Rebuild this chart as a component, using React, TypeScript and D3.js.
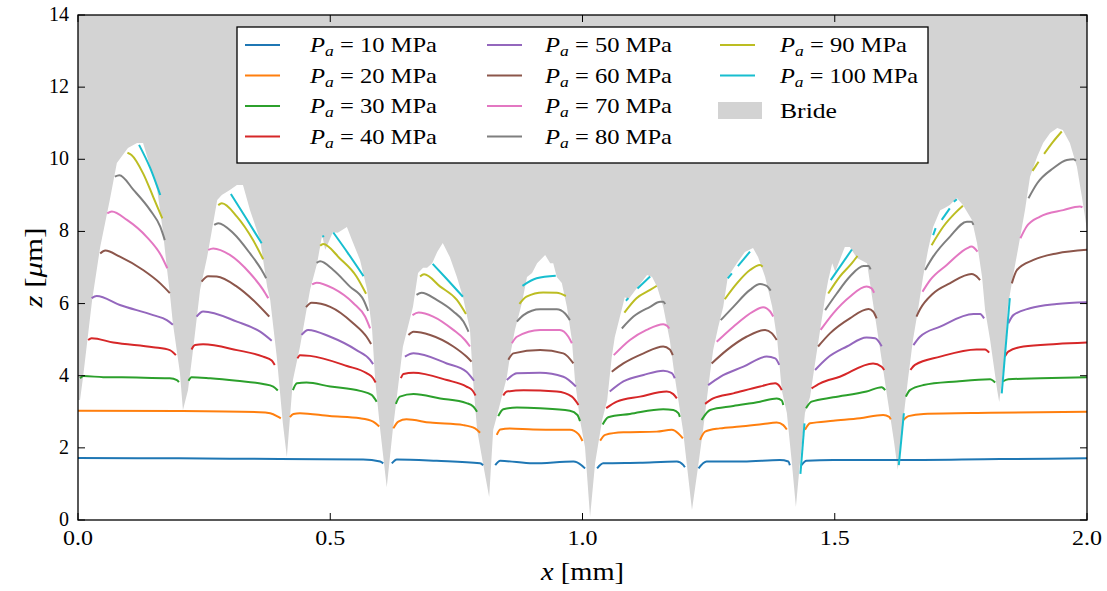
import React from 'react';
import * as d3 from 'd3';

type P = [number, number];

const pressures = [10, 20, 30, 40, 50, 60, 70, 80, 90, 100];
const colors = ['#1f77b4', '#ff7f0e', '#2ca02c', '#d62728', '#9467bd', '#8c564b', '#e377c2', '#7f7f7f', '#bcbd22', '#17becf'];
const xTicks = [0, 0.5, 1.0, 1.5, 2.0];
const yTicks = [0, 2, 4, 6, 8, 10, 12, 14];

// Bride surface profile (x in mm, z in µm); gray fills from it up to the top
const bride: P[] = [
  [0, 3.33], [0.004, 3.33], [0.01, 3.96], [0.028, 6.1], [0.044, 7.57], [0.063, 8.87], [0.077, 9.9], [0.099, 10.31], [0.117, 10.45], [0.129, 10.45],
  [0.143, 9.79], [0.157, 9.15], [0.168, 8.04], [0.176, 7.01], [0.182, 6.29], [0.188, 5.46], [0.202, 4.08], [0.208, 3.05],
  [0.218, 3.6], [0.228, 4.71], [0.242, 6.38], [0.256, 7.29], [0.276, 8.87], [0.285, 9.01], [0.301, 9.15], [0.315, 9.29], [0.327, 9.29],
  [0.341, 8.59], [0.361, 7.76], [0.375, 6.46], [0.381, 6.1], [0.394, 4.52], [0.406, 2.69], [0.414, 1.75],
  [0.426, 3.88], [0.44, 4.8], [0.46, 6.38], [0.474, 7.12], [0.484, 7.9], [0.49, 7.49], [0.496, 7.68], [0.505, 7.98], [0.515, 7.96], [0.533, 8.12],
  [0.543, 7.76], [0.559, 7.21], [0.573, 6.38], [0.583, 5.27], [0.589, 3.88], [0.599, 2.5], [0.612, 0.91],
  [0.624, 2.5], [0.632, 3.41], [0.644, 4.8], [0.664, 5.91], [0.674, 6.85], [0.684, 6.99], [0.692, 6.99], [0.702, 7.12], [0.712, 7.43], [0.723, 7.68],
  [0.737, 7.29], [0.751, 6.74], [0.763, 6.18], [0.777, 5.27], [0.783, 3.88], [0.791, 2.5], [0.805, 1.39], [0.815, 0.64],
  [0.823, 2.5], [0.832, 2.97], [0.85, 3.96], [0.856, 4.52], [0.866, 5.27], [0.88, 6.02], [0.89, 6.74], [0.9, 6.85], [0.91, 7.12], [0.926, 7.35],
  [0.936, 7.12], [0.942, 7.12], [0.949, 6.74], [0.959, 6.57], [0.969, 5.91], [0.979, 4.99], [0.985, 3.88], [0.995, 2.77], [1.005, 2.02], [1.015, 0.08],
  [1.025, 1.58], [1.039, 2.77], [1.049, 3.33], [1.058, 4.52], [1.064, 5.07], [1.074, 5.63], [1.084, 6.18], [1.09, 6.1], [1.108, 6.43], [1.128, 6.79],
  [1.138, 6.74], [1.148, 6.46], [1.16, 5.91], [1.173, 4.99], [1.183, 3.96], [1.199, 2.5], [1.217, 0.28],
  [1.229, 1.47], [1.239, 2.5], [1.247, 3.41], [1.253, 4.08], [1.259, 4.71], [1.269, 5.35], [1.279, 5.91], [1.288, 6.74], [1.306, 7.12], [1.322, 7.43],
  [1.338, 7.54], [1.348, 7.29], [1.362, 6.74], [1.376, 5.91], [1.386, 4.99], [1.395, 3.6], [1.405, 2.97], [1.415, 1.58], [1.423, 0.36],
  [1.431, 1.58], [1.441, 2.97], [1.451, 3.41], [1.461, 4.35], [1.471, 5.27], [1.481, 6.18], [1.487, 6.65], [1.495, 7.12], [1.501, 6.88], [1.51, 7.21],
  [1.52, 7.57], [1.53, 7.57], [1.544, 7.26], [1.564, 7.12], [1.574, 6.18], [1.584, 5.27], [1.594, 4.35], [1.604, 3.41], [1.611, 2.77], [1.617, 2.22], [1.625, 1.39],
  [1.635, 2.69], [1.645, 3.88], [1.655, 4.99], [1.665, 5.82], [1.675, 6.74], [1.685, 7.49], [1.695, 8.12], [1.709, 8.59], [1.718, 8.65], [1.728, 8.73],
  [1.742, 8.93], [1.754, 8.73], [1.772, 8.32], [1.782, 7.68], [1.792, 6.74], [1.798, 5.82], [1.808, 4.99], [1.822, 3.6], [1.826, 3.27],
  [1.837, 4.52], [1.843, 5.91], [1.853, 6.74], [1.863, 7.49], [1.877, 8.59], [1.887, 9.51], [1.901, 10.06], [1.913, 10.45], [1.927, 10.73], [1.941, 10.87],
  [1.952, 10.81], [1.966, 10.45], [1.98, 9.79], [1.99, 8.95], [1.994, 8.59], [2.0, 8.04],
];

const s10: P[][] = [
  [[0, 1.72], [0.2, 1.71], [0.4, 1.69], [0.565, 1.68], [0.599, 1.62], [0.605, 1.57]],
  [[0.622, 1.57], [0.632, 1.68], [0.711, 1.64], [0.797, 1.57], [0.803, 1.52]],
  [[0.827, 1.52], [0.837, 1.64], [0.902, 1.57], [0.982, 1.62], [0.998, 1.52], [1.005, 1.43]],
  [[1.029, 1.43], [1.041, 1.57], [1.114, 1.59], [1.187, 1.62], [1.2, 1.52], [1.203, 1.46]],
  [[1.23, 1.43], [1.246, 1.62], [1.319, 1.62], [1.391, 1.66], [1.408, 1.62], [1.411, 1.52]],
  [[1.434, 1.52], [1.444, 1.64], [1.497, 1.66], [1.619, 1.66], [1.828, 1.69], [2.0, 1.71]],
];
const s20: P[][] = [
  [[0, 3.03], [0.2, 3.02], [0.36, 2.99], [0.381, 2.96], [0.397, 2.86], [0.402, 2.82]],
  [[0.42, 2.85], [0.427, 2.94], [0.44, 2.96], [0.499, 2.88], [0.559, 2.82], [0.585, 2.73], [0.597, 2.59]],
  [[0.625, 2.54], [0.635, 2.73], [0.651, 2.79], [0.698, 2.7], [0.764, 2.63], [0.787, 2.54], [0.797, 2.42]],
  [[0.83, 2.36], [0.837, 2.51], [0.856, 2.54], [0.902, 2.51], [0.975, 2.5], [0.992, 2.38], [1.0, 2.19]],
  [[1.035, 2.2], [1.045, 2.36], [1.081, 2.43], [1.147, 2.45], [1.177, 2.5], [1.19, 2.4], [1.199, 2.26]],
  [[1.233, 2.22], [1.243, 2.45], [1.272, 2.54], [1.312, 2.59], [1.358, 2.66], [1.385, 2.7], [1.398, 2.63], [1.405, 2.51]],
  [[1.441, 2.5], [1.451, 2.68], [1.497, 2.75], [1.55, 2.82], [1.596, 2.91], [1.608, 2.86], [1.611, 2.79]],
  [[1.636, 2.77], [1.646, 2.88], [1.676, 2.94], [1.808, 2.97], [2.0, 3.0]],
];
const s30: P[][] = [
  [[0.004, 3.93], [0.011, 3.99], [0.05, 3.96], [0.116, 3.95], [0.182, 3.93], [0.196, 3.88], [0.2, 3.82]],
  [[0.219, 3.86], [0.225, 3.96], [0.262, 3.93], [0.315, 3.86], [0.367, 3.77], [0.387, 3.7], [0.396, 3.59]],
  [[0.426, 3.6], [0.434, 3.79], [0.453, 3.81], [0.5, 3.7], [0.559, 3.58], [0.582, 3.47], [0.592, 3.28]],
  [[0.63, 3.22], [0.638, 3.42], [0.665, 3.49], [0.718, 3.37], [0.77, 3.24], [0.784, 3.14], [0.791, 3.0]],
  [[0.833, 2.88], [0.843, 3.07], [0.87, 3.12], [0.916, 3.1], [0.975, 3.03], [0.99, 2.91], [0.995, 2.74]],
  [[1.04, 2.65], [1.051, 2.85], [1.094, 2.94], [1.16, 3.07], [1.18, 3.05], [1.19, 2.96], [1.193, 2.86]],
  [[1.236, 2.77], [1.253, 3.05], [1.299, 3.16], [1.352, 3.28], [1.385, 3.37], [1.395, 3.31], [1.398, 3.19]],
  [[1.443, 3.1], [1.454, 3.28], [1.497, 3.4], [1.563, 3.56], [1.593, 3.68], [1.6, 3.6]],
  [[1.641, 3.42], [1.649, 3.6], [1.676, 3.74], [1.742, 3.84], [1.808, 3.9], [1.814, 3.86], [1.818, 3.81]],
  [[1.833, 3.84], [1.844, 3.9], [1.907, 3.93], [2.0, 3.96]],
];
const s40: P[][] = [
  [[0.02, 4.99], [0.027, 5.04], [0.07, 4.92], [0.149, 4.79], [0.182, 4.71], [0.194, 4.57]],
  [[0.225, 4.73], [0.232, 4.85], [0.248, 4.87], [0.315, 4.71], [0.367, 4.53], [0.384, 4.42], [0.39, 4.3]],
  [[0.435, 4.48], [0.44, 4.57], [0.46, 4.55], [0.533, 4.27], [0.572, 4.07], [0.585, 3.93], [0.59, 3.81]],
  [[0.64, 3.93], [0.645, 4.05], [0.665, 4.08], [0.731, 3.88], [0.77, 3.7], [0.782, 3.59], [0.788, 3.45]],
  [[0.843, 3.45], [0.85, 3.56], [0.883, 3.6], [0.949, 3.56], [0.979, 3.42], [0.992, 3.19]],
  [[1.047, 3.1], [1.068, 3.28], [1.114, 3.42], [1.167, 3.56], [1.18, 3.49], [1.187, 3.37]],
  [[1.243, 3.22], [1.259, 3.37], [1.299, 3.51], [1.352, 3.7], [1.382, 3.79], [1.391, 3.7], [1.395, 3.6]],
  [[1.454, 3.65], [1.471, 3.79], [1.51, 3.97], [1.576, 4.34], [1.593, 4.25], [1.598, 4.16]],
  [[1.65, 4.16], [1.659, 4.3], [1.709, 4.53], [1.781, 4.73], [1.798, 4.73], [1.806, 4.64]],
  [[1.837, 4.53], [1.844, 4.67], [1.874, 4.81], [1.94, 4.88], [2.0, 4.92]],
];
const s50: P[][] = [
  [[0.027, 6.15], [0.037, 6.21], [0.083, 5.96], [0.149, 5.68], [0.176, 5.54], [0.188, 5.41]],
  [[0.235, 5.64], [0.248, 5.78], [0.315, 5.5], [0.361, 5.22], [0.384, 4.97]],
  [[0.443, 5.13], [0.456, 5.27], [0.5, 5.08], [0.552, 4.71], [0.579, 4.44], [0.585, 4.32]],
  [[0.648, 4.53], [0.665, 4.62], [0.731, 4.34], [0.77, 4.11], [0.785, 3.86]],
  [[0.85, 3.88], [0.87, 4.07], [0.916, 4.08], [0.962, 3.97], [0.987, 3.7]],
  [[1.054, 3.56], [1.081, 3.84], [1.121, 4.02], [1.16, 4.14], [1.177, 4.07], [1.183, 3.93]],
  [[1.249, 3.74], [1.273, 3.97], [1.319, 4.25], [1.365, 4.53], [1.382, 4.48], [1.39, 4.3]],
  [[1.461, 4.16], [1.484, 4.48], [1.524, 4.81], [1.563, 5.06], [1.58, 5.04], [1.593, 4.82]],
  [[1.656, 4.85], [1.669, 5.08], [1.709, 5.36], [1.775, 5.71], [1.788, 5.71], [1.796, 5.59]],
  [[1.844, 5.45], [1.854, 5.68], [1.887, 5.87], [1.94, 5.99], [2.0, 6.04]],
];
const s60: P[][] = [
  [[0.044, 7.39], [0.054, 7.47], [0.083, 7.3], [0.129, 6.93], [0.163, 6.56], [0.182, 6.29]],
  [[0.245, 6.61], [0.258, 6.76], [0.275, 6.75], [0.315, 6.47], [0.347, 6.1], [0.379, 5.64]],
  [[0.452, 5.9], [0.463, 6.02], [0.5, 5.91], [0.546, 5.45], [0.572, 5.08], [0.581, 4.88]],
  [[0.655, 5.13], [0.665, 5.22], [0.698, 5.13], [0.744, 4.81], [0.77, 4.53], [0.78, 4.39]],
  [[0.853, 4.44], [0.863, 4.62], [0.916, 4.71], [0.962, 4.62], [0.982, 4.34]],
  [[1.058, 4.11], [1.081, 4.34], [1.121, 4.62], [1.16, 4.81], [1.173, 4.73], [1.179, 4.57]],
  [[1.256, 4.34], [1.286, 4.71], [1.325, 5.08], [1.362, 5.27], [1.375, 5.18], [1.385, 4.99]],
  [[1.467, 4.81], [1.491, 5.18], [1.53, 5.59], [1.567, 5.85], [1.576, 5.78], [1.583, 5.59]],
  [[1.662, 5.64], [1.669, 5.84], [1.695, 6.28], [1.728, 6.56], [1.771, 6.82], [1.785, 6.7], [1.788, 6.65]],
  [[1.851, 6.56], [1.861, 6.93], [1.894, 7.21], [1.94, 7.39], [2.0, 7.49]],
];
const s70: P[][] = [
  [[0.058, 8.5], [0.067, 8.55], [0.097, 8.32], [0.136, 7.85], [0.166, 7.3], [0.177, 6.98]],
  [[0.258, 7.49], [0.268, 7.53], [0.301, 7.35], [0.341, 6.84], [0.367, 6.38], [0.377, 6.15]],
  [[0.464, 6.53], [0.473, 6.58], [0.506, 6.42], [0.546, 6.01], [0.569, 5.64], [0.579, 5.31]],
  [[0.663, 5.68], [0.675, 5.75], [0.704, 5.64], [0.744, 5.27], [0.767, 4.99], [0.777, 4.81]],
  [[0.86, 4.9], [0.87, 5.08], [0.916, 5.27], [0.955, 5.27], [0.972, 5.08], [0.979, 4.9]],
  [[1.062, 4.57], [1.094, 4.99], [1.127, 5.27], [1.16, 5.43], [1.168, 5.38], [1.172, 5.31]],
  [[1.266, 4.94], [1.299, 5.36], [1.338, 5.78], [1.358, 5.9], [1.372, 5.78], [1.378, 5.64]],
  [[1.472, 5.27], [1.497, 5.73], [1.53, 6.19], [1.563, 6.47], [1.573, 6.42], [1.578, 6.3]],
  [[1.674, 6.33], [1.689, 6.65], [1.722, 7.07], [1.762, 7.53], [1.771, 7.58], [1.783, 7.44]],
  [[1.868, 7.81], [1.88, 8.13], [1.907, 8.41], [1.953, 8.59], [1.986, 8.69], [1.991, 8.67]],
];
const s80: P[][] = [
  [[0.073, 9.52], [0.082, 9.56], [0.11, 9.15], [0.143, 8.59], [0.163, 8.13], [0.172, 7.76]],
  [[0.27, 8.18], [0.278, 8.23], [0.308, 7.95], [0.341, 7.39], [0.364, 6.93], [0.373, 6.7]],
  [[0.473, 7.13], [0.48, 7.17], [0.506, 6.93], [0.539, 6.47], [0.566, 6.1], [0.575, 5.8]],
  [[0.671, 6.24], [0.681, 6.3], [0.711, 6.1], [0.744, 5.78], [0.764, 5.5], [0.774, 5.22]],
  [[0.87, 5.5], [0.883, 5.68], [0.916, 5.84], [0.949, 5.84], [0.965, 5.73], [0.975, 5.54]],
  [[1.078, 5.31], [1.101, 5.64], [1.134, 5.91], [1.154, 6.05], [1.16, 6.05], [1.164, 5.99]],
  [[1.274, 5.54], [1.299, 5.91], [1.332, 6.38], [1.352, 6.54], [1.365, 6.49], [1.373, 6.36]],
  [[1.481, 5.82], [1.504, 6.28], [1.53, 6.75], [1.557, 7.04], [1.567, 7.04], [1.571, 6.95]],
  [[1.679, 6.93], [1.695, 7.3], [1.728, 7.85], [1.762, 8.27], [1.771, 8.27], [1.775, 8.18]],
  [[1.884, 8.92], [1.901, 9.33], [1.933, 9.75], [1.96, 9.98], [1.973, 10.0], [1.978, 9.96]],
];
const s90: P[][] = [
  [[0.098, 10.18], [0.106, 10.12], [0.129, 9.61], [0.149, 8.96], [0.167, 8.36]],
  [[0.278, 8.73], [0.285, 8.78], [0.315, 8.41], [0.347, 7.76], [0.367, 7.23]],
  [[0.48, 7.6], [0.486, 7.65], [0.519, 7.25], [0.552, 6.75], [0.571, 6.27]],
  [[0.678, 6.75], [0.686, 6.81], [0.718, 6.47], [0.751, 6.1], [0.769, 5.71]],
  [[0.875, 5.99], [0.889, 6.19], [0.922, 6.31], [0.949, 6.3], [0.967, 6.21]],
  [[1.083, 5.75], [1.107, 6.15], [1.134, 6.38], [1.147, 6.49]],
  [[1.282, 6.12], [1.306, 6.56], [1.332, 6.93], [1.352, 7.07], [1.357, 7.02]],
  [[1.487, 6.28], [1.51, 6.75], [1.534, 7.12], [1.545, 7.32]],
  [[1.692, 7.62], [1.715, 8.13], [1.738, 8.5], [1.754, 8.71]],
  [[1.892, 9.68], [1.904, 9.93]],
  [[1.915, 10.15], [1.933, 10.49], [1.95, 10.77]],
];
const s100: P[][] = [
  [[0.121, 10.4], [0.143, 9.76], [0.163, 9.01]],
  [[0.303, 9.04], [0.333, 8.37], [0.364, 7.67]],
  [[0.484, 7.86], [0.488, 7.87]],
  [[0.506, 7.97], [0.535, 7.4], [0.566, 6.76]],
  [[0.703, 7.1], [0.731, 6.68], [0.763, 6.19]],
  [[0.881, 6.49], [0.909, 6.7], [0.947, 6.77]],
  [[1.086, 6.08], [1.091, 6.15]],
  [[1.109, 6.42], [1.134, 6.75]],
  [[1.288, 6.7], [1.296, 6.84]],
  [[1.308, 7.04], [1.332, 7.44]],
  [[1.492, 6.65], [1.534, 7.5]],
  [[1.695, 7.9], [1.7, 8.09]],
  [[1.712, 8.32], [1.728, 8.64]],
  [[1.736, 8.82], [1.742, 8.89]],
  [[1.432, 1.28], [1.44, 2.68]],
  [[1.627, 1.52], [1.637, 2.96]],
  [[1.831, 3.51], [1.847, 6.15]],
];
const seriesData = [s10, s20, s30, s40, s50, s60, s70, s80, s90, s100];

const FONT = "'Liberation Serif', 'DejaVu Serif', serif";

export default function App() {
  const x = d3.scaleLinear().domain([0, 2]).range([78, 1087]);
  const y = d3.scaleLinear().domain([0, 14]).range([520, 15]);
  const area = d3.area<P>().x(d => x(d[0])).y0(y(14)).y1(d => y(d[1]));
  const line = d3.line<P>().x(d => x(d[0])).y(d => y(d[1])).curve(d3.curveMonotoneX);
  const x0 = x(0), x1 = x(2), y0 = y(0), y1 = y(14);
  const tl = 7;

  const legendRows = [45, 75.5, 106, 136.5];
  const legendCols = [{ lx: 245, tx: 310 }, { lx: 487, tx: 545 }, { lx: 720, tx: 780 }];

  return (
    <svg width={1107} height={591} style={{ position: 'absolute', left: 0, top: 0, background: '#fff' }} fontFamily={FONT}>
      <defs>
        <clipPath id="plotclip"><rect x={x0} y={y1} width={x1 - x0} height={y0 - y1} /></clipPath>
      </defs>
      <rect x={0} y={0} width={1107} height={591} fill="#fff" />
      <g clipPath="url(#plotclip)">
        <path d={area(bride) || ''} fill="#d3d3d3" stroke="none" />
        {seriesData.map((segs, i) => (
          <g key={i}>
            {segs.map((seg, j) => (
              <path key={j} d={line(seg) || ''} fill="none" stroke={colors[i]} strokeWidth={2} strokeLinecap="butt" strokeLinejoin="round" />
            ))}
          </g>
        ))}
      </g>
      {/* frame */}
      <rect x={x0} y={y1} width={x1 - x0} height={y0 - y1} fill="none" stroke="#000" strokeWidth={1.3} />
      {/* ticks */}
      {xTicks.map(t => (
        <g key={'xt' + t}>
          <line x1={x(t)} x2={x(t)} y1={y0} y2={y0 - tl} stroke="#000" strokeWidth={1} />
          <line x1={x(t)} x2={x(t)} y1={y1} y2={y1 + tl} stroke="#000" strokeWidth={1} />
          <text x={x(t)} y={y0 + 25} textAnchor="middle" fontSize={20} textLength={30} lengthAdjust="spacingAndGlyphs">{t.toFixed(1)}</text>
        </g>
      ))}
      {yTicks.map(t => (
        <g key={'yt' + t}>
          <line x1={x0} x2={x0 + tl} y1={y(t)} y2={y(t)} stroke="#000" strokeWidth={1} />
          <line x1={x1} x2={x1 - tl} y1={y(t)} y2={y(t)} stroke="#000" strokeWidth={1} />
          <text x={x0 - 9} y={y(t) + 6} textAnchor="end" fontSize={20}>{t}</text>
        </g>
      ))}
      {/* axis labels */}
      <text x={(x0 + x1) / 2} y={580} textAnchor="middle" fontSize={26} textLength={83} lengthAdjust="spacingAndGlyphs">
        <tspan fontStyle="italic">x</tspan> [mm]
      </text>
      <text transform={`translate(42, ${(y0 + y1) / 2}) rotate(-90)`} textAnchor="middle" fontSize={26} textLength={80} lengthAdjust="spacingAndGlyphs">
        <tspan fontStyle="italic">z</tspan> [<tspan fontStyle="italic">μ</tspan>m]
      </text>
      {/* legend */}
      <rect x={237} y={27} width={691} height={136} fill="#fff" stroke="#000" strokeWidth={1.3} />
      {pressures.map((p, i) => {
        const col = legendCols[Math.floor(i / 4)];
        const ry = legendRows[i % 4];
        return (
          <g key={'lg' + p}>
            <line x1={col.lx} x2={col.lx + 35} y1={ry} y2={ry} stroke={colors[i]} strokeWidth={2} />
            <text x={col.tx} y={ry + 7} fontSize={21} textLength={p >= 100 ? 138 : 127} lengthAdjust="spacingAndGlyphs">
              <tspan fontStyle="italic">P</tspan>
              <tspan fontStyle="italic" fontSize={15} dy={4}>a</tspan>
              <tspan dy={-4}> = {p} MPa</tspan>
            </text>
          </g>
        );
      })}
      <rect x={718} y={102} width={44} height={17} fill="#d3d3d3" />
      <text x={780} y={118} fontSize={21} textLength={57} lengthAdjust="spacingAndGlyphs">Bride</text>
    </svg>
  );
}
